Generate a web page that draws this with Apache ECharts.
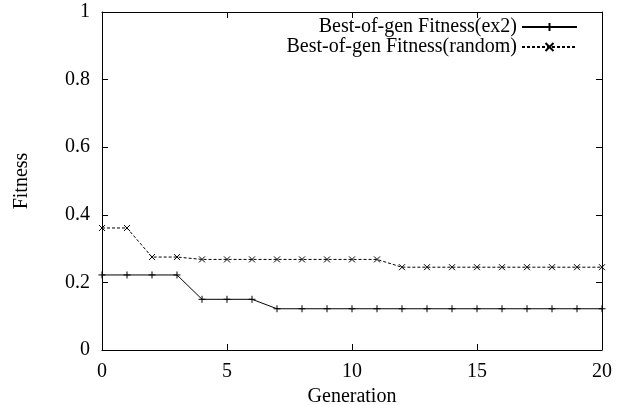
<!DOCTYPE html>
<html>
<head>
<meta charset="utf-8">
<script src="https://cdn.jsdelivr.net/npm/echarts@6/dist/echarts.min.js"></script>
<style>
html,body{margin:0;padding:0;background:#fff;}
#chart{width:625px;height:405px;}
</style>
</head>
<body>
<div id="chart"></div>
<script>
const generations = [0,1,2,3,4,5,6,7,8,9,10,11,12,13,14,15,16,17,18,19,20];
const fitnessEx2 = [0.222,0.222,0.222,0.222,0.150,0.150,0.150,0.122,0.122,0.122,0.122,0.122,0.122,0.122,0.122,0.122,0.122,0.122,0.122,0.122,0.122];
const fitnessRandom = [0.361,0.361,0.275,0.275,0.268,0.268,0.268,0.268,0.268,0.268,0.268,0.268,0.245,0.245,0.245,0.245,0.245,0.245,0.245,0.245,0.245];
const seriesNames = ['Best-of-gen Fitness(ex2)','Best-of-gen Fitness(random)'];
const xTitle = 'Generation';
const yTitle = 'Fitness';

const FONT = 'Liberation Serif';
const FS = 20;
const plusPath = 'path://M0,-1L0,1M-1,0L1,0';
const crossPath = 'path://M-1,-1L1,1M-1,1L1,-1';

const chart = echarts.init(document.getElementById('chart'));
function axisCommon(){
  return {
    axisLine:{show:true, onZero:false, lineStyle:{color:'#000', width:1}},
    axisTick:{show:true, inside:true, length:6, lineStyle:{color:'#000', width:1}},
    splitLine:{show:false}
  };
}
chart.setOption({
  animation:false,
  backgroundColor:'#fff',
  textStyle:{fontFamily:FONT, color:'#000'},
  grid:{left:102, right:23, top:12, bottom:55, containLabel:false, outerBoundsMode:'none'},
  legend:{
    orient:'vertical', align:'right', right:47, top:17,
    itemWidth:55, itemHeight:10, itemGap:0, padding:0,
    textStyle:{fontFamily:FONT, fontSize:FS, color:'#000', lineHeight:20},
    data:seriesNames
  },
  xAxis:[
    Object.assign({type:'value', min:0, max:20, interval:5, position:'bottom',
      name:xTitle, nameLocation:'middle', nameGap:32,
      nameTextStyle:{fontFamily:FONT, fontSize:FS, color:'#000'},
      axisLabel:{fontFamily:FONT, fontSize:FS, color:'#000', margin:12}}, axisCommon()),
    Object.assign({type:'value', min:0, max:20, interval:5, position:'top',
      axisLabel:{show:false}}, axisCommon())
  ],
  yAxis:[
    Object.assign({type:'value', min:0, max:1, interval:0.2, position:'left',
      name:yTitle, nameLocation:'middle', nameGap:70, nameRotate:90,
      nameTextStyle:{fontFamily:FONT, fontSize:FS, color:'#000'},
      axisLabel:{fontFamily:FONT, fontSize:FS, color:'#000', margin:12}}, axisCommon()),
    Object.assign({type:'value', min:0, max:1, interval:0.2, position:'right',
      axisLabel:{show:false}}, axisCommon())
  ],
  series:[
    {
      name:seriesNames[0], type:'line',
      data:generations.map((g,i)=>[g, fitnessEx2[i]]),
      symbol:plusPath, symbolSize:7,
      lineStyle:{color:'#000', width:1, type:'solid'},
      itemStyle:{color:'#000', borderColor:'#000', borderWidth:1},
      emphasis:{disabled:true}
    },
    {
      name:seriesNames[1], type:'line',
      data:generations.map((g,i)=>[g, fitnessRandom[i]]),
      symbol:crossPath, symbolSize:6,
      lineStyle:{color:'#000', width:1, type:[3,2]},
      itemStyle:{color:'#000', borderColor:'#000', borderWidth:1},
      emphasis:{disabled:true}
    }
  ]
});
</script>
</body>
</html>
